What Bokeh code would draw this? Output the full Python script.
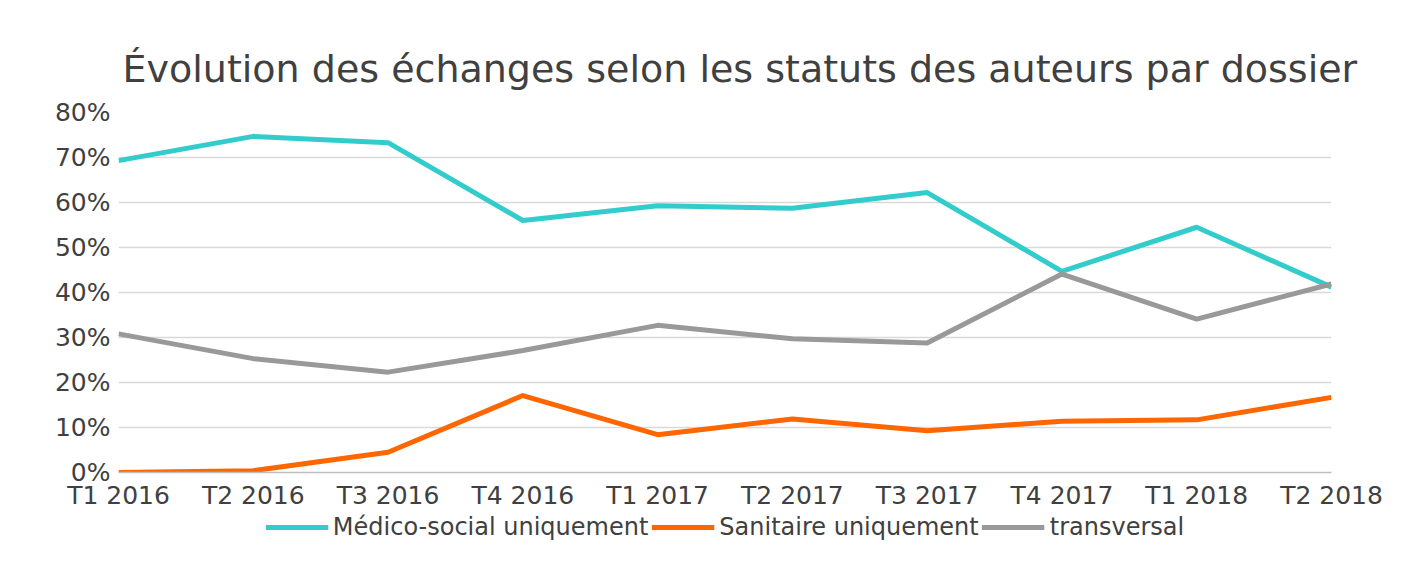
from bokeh.plotting import figure
from bokeh.layouts import column
from bokeh.models import Range1d, FixedTicker, NumeralTickFormatter, Legend, LegendItem
from bokeh.embed import file_html
from bokeh.resources import INLINE

categories = ["T1 2016", "T2 2016", "T3 2016", "T4 2016", "T1 2017",
              "T2 2017", "T3 2017", "T4 2017", "T1 2018", "T2 2018"]
medico_social = [0.693, 0.747, 0.733, 0.560, 0.593, 0.587, 0.622, 0.447, 0.545, 0.412]
sanitaire = [0.000, 0.004, 0.045, 0.171, 0.084, 0.119, 0.093, 0.114, 0.117, 0.167]
transversal = [0.308, 0.253, 0.223, 0.271, 0.327, 0.297, 0.288, 0.441, 0.341, 0.419]

series_names = ["Médico-social uniquement", "Sanitaire uniquement", "transversal"]
series_colors = ["#33CCCC", "#FF6600", "#999999"]
series_values = [medico_social, sanitaire, transversal]

FONT = "DejaVu Sans"
TEXT = "#404040"

xs = list(range(len(categories)))

p = figure(frame_width=1213, frame_height=360, output_backend="svg", toolbar_location=None,
           x_range=Range1d(0, len(categories) - 1), y_range=Range1d(0, 0.8),
           min_border_left=118, min_border_right=75, min_border_top=112,
           min_border_bottom=35,
           title="Évolution des échanges selon les statuts des auteurs par dossier")

p.title.text_font = FONT
p.title.text_font_size = "38px"
p.title.text_font_style = "normal"
p.title.text_color = TEXT
p.title.align = "left"
p.title.offset = 4
p.title.standoff = 43

p.outline_line_color = None
p.background_fill_color = "white"
p.border_fill_color = "white"

p.xgrid.visible = False
p.ygrid.grid_line_color = "#d9d9d9"
p.ygrid.grid_line_width = 1.5
p.yaxis.ticker = FixedTicker(ticks=[i / 10 for i in range(9)])
p.yaxis.formatter = NumeralTickFormatter(format="0%")
p.xaxis.ticker = FixedTicker(ticks=xs)
p.xaxis.major_label_overrides = {i: c for i, c in enumerate(categories)}

for ax in (p.xaxis[0], p.yaxis[0]):
    ax.major_tick_line_color = None
    ax.minor_tick_line_color = None
    ax.major_label_text_font = FONT
    ax.major_label_text_font_size = "25px"
    ax.major_label_text_color = TEXT
p.yaxis.axis_line_color = None
p.yaxis.major_label_standoff = 2
p.xaxis.axis_line_color = "#bfbfbf"
p.xaxis.axis_line_width = 1.5
p.xaxis.major_label_standoff = 2

for name, color, vals in zip(series_names, series_colors, series_values):
    p.line(xs, vals, line_color=color, line_width=5, line_join="round")

# legend strip below the chart (its series lie outside its visible ranges)
lg = figure(width=1406, height=30, output_backend="svg", toolbar_location=None,
            x_range=Range1d(-100, -99), y_range=Range1d(-100, -99),
            min_border_left=0, min_border_right=16, min_border_top=0,
            min_border_bottom=0)
lg.axis.visible = False
lg.grid.visible = False
lg.outline_line_color = None
lg.border_fill_color = "white"

items = []
for name, color, vals in zip(series_names, series_colors, series_values):
    r = lg.line(xs, vals, line_color=color, line_width=5)
    items.append(LegendItem(label=name, renderers=[r]))

legend = Legend(items=items, orientation="horizontal", location="center",
                label_text_font=FONT, label_text_font_size="24px",
                label_text_color=TEXT, glyph_width=63, glyph_height=20,
                label_standoff=5, spacing=3, padding=0, margin=0,
                border_line_color=None, background_fill_alpha=0)
lg.add_layout(legend)

layout = column(p, lg, spacing=0)
open("out.html", "w").write(file_html(layout, INLINE))
